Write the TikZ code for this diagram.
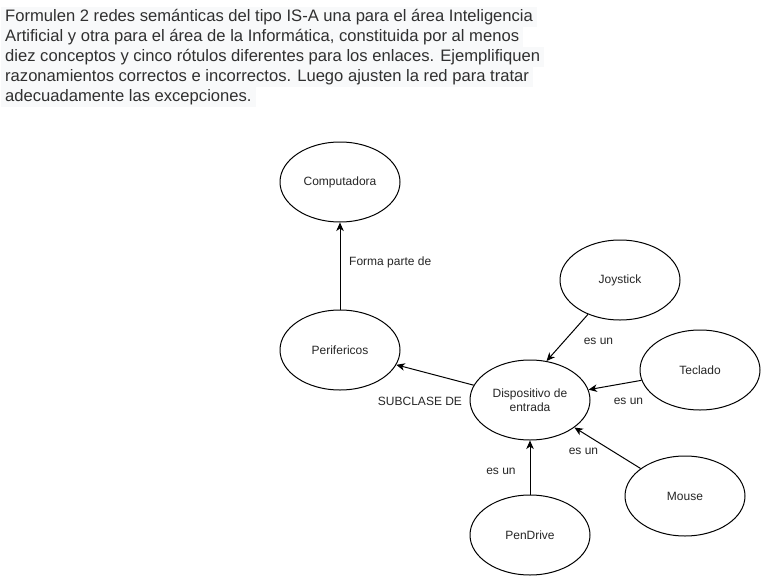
\documentclass[tikz,border=0pt]{standalone}
\usepackage{fontspec}
\setmainfont{Liberation Sans}
\usetikzlibrary{arrows.meta,shapes.geometric}
\definecolor{hlgray}{HTML}{F8F9FA}
\definecolor{txtgray}{HTML}{303030}
\begin{document}
\begin{tikzpicture}[x=1pt,y=-1pt,
  ell/.style={draw=black, line width=1pt, ellipse, fill=white, minimum width=120pt, minimum height=80pt, inner sep=0pt, font=\fontsize{12}{14}\selectfont, align=center, text=black!85},
  arr/.style={draw=black, line width=1pt, -{Stealth[length=8.5pt,width=7.5pt,inset=2.5pt]}},
  lbl/.style={font=\fontsize{12}{14}\selectfont, inner sep=0pt, text=black!85},
  hl/.style={anchor=west, fill=hlgray, inner xsep=4pt, inner ysep=1.5pt, text height=12.5pt, text depth=4pt, font=\fontsize{16.6}{19}\selectfont, text=txtgray}]
\useasboundingbox[fill=white] (0,0) rectangle (761,576);
% statement text
\node[hl] (t1) at (1,17) {Formulen 2 redes semánticas del tipo IS-A una para el área Inteligencia};
\node[hl] (t2) at (1,37) {Artificial y otra para el área de la Informática, constituida por al menos};
\node[hl] (t3) at (1,57) {diez conceptos y cinco rótulos diferentes para los enlaces. Ejemplifiquen};
\node[hl] (t4) at (1,77) {razonamientos correctos e incorrectos. Luego ajusten la red para tratar};
\node[hl] (t5) at (1,97) {adecuadamente las excepciones.};
% concepts
\node[ell] (comp) at (340,182) {Computadora};
\node[ell] (peri) at (340,350) {Perifericos};
\node[ell] (disp) at (530,400) {Dispositivo de\\entrada};
\node[ell] (joy)  at (620,280) {Joystick};
\node[ell] (tec)  at (700,370) {Teclado};
\node[ell] (mou)  at (685,496) {Mouse};
\node[ell] (pen)  at (530,535) {PenDrive};
% links
\draw[arr] (peri) -- (comp);
\draw[arr] (disp) -- (peri);
\draw[arr] (joy.227.6) -- (disp.67.2);
\draw[arr] (tec) -- (disp);
\draw[arr] (mou) -- (disp);
\draw[arr] (pen) -- (disp);
% link labels
\node[lbl, anchor=west] (l1) at (349,262) {Forma parte de};
\node[lbl] (l2) at (420,401) {SUBCLASE DE};
\node[lbl] (l3) at (598.5,341) {es un};
\node[lbl] (l4) at (628.5,401) {es un};
\node[lbl] (l5) at (583.5,451) {es un};
\node[lbl] (l6) at (501,471) {es un};
\end{tikzpicture}
\end{document}
